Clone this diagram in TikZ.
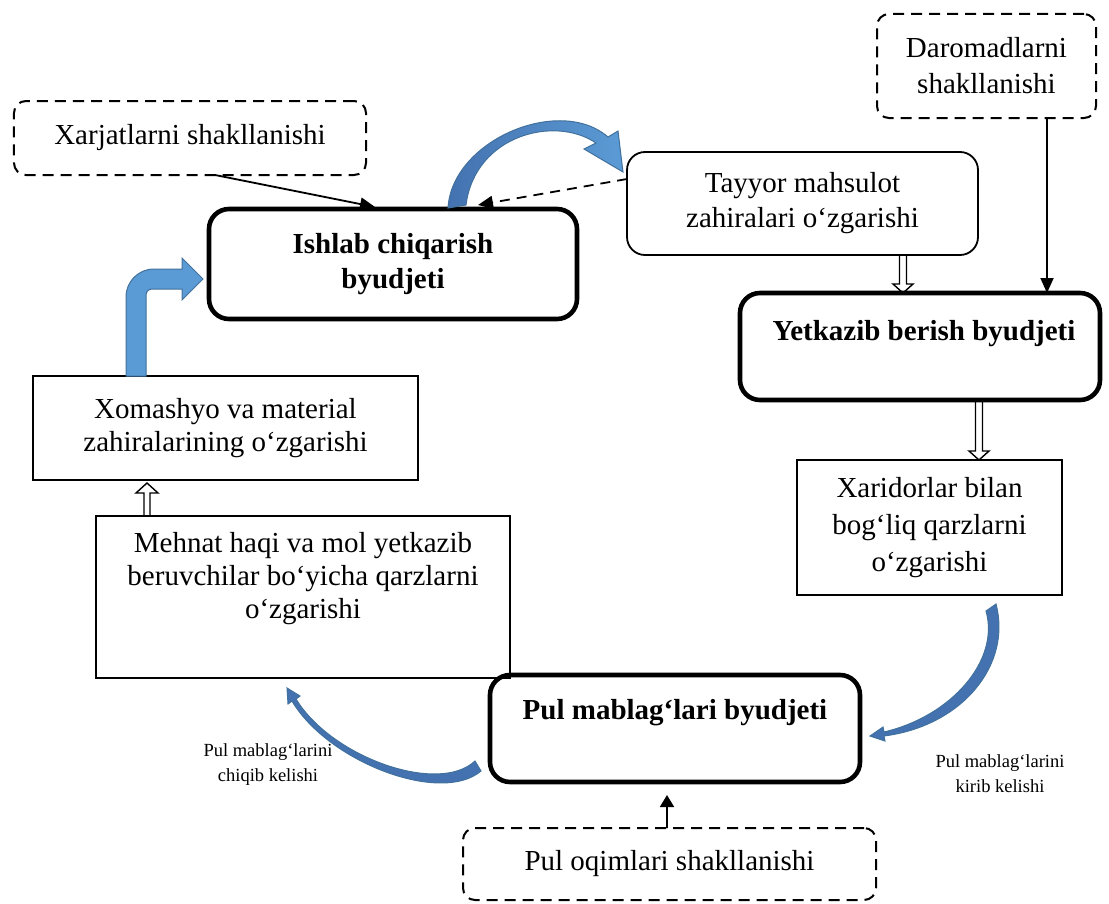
\documentclass[tikz,border=0pt]{standalone}
\usepackage{fontspec}
\setmainfont{Liberation Serif}
\usetikzlibrary{arrows.meta,calc}
\definecolor{blockfill}{RGB}{91,155,213}
\definecolor{blockedge}{RGB}{65,113,156}
\definecolor{blockdark}{RGB}{68,114,176}

% outlined (hollow) vertical block arrows between two anchors
\newcommand\hollowdown[2]{%
  \draw[hollow] let \p1=(#1), \p2=(#2) in
    (\x1-3.5bp,\y1) -- (\x1-3.5bp,\y2+9bp) -- (\x1-10bp,\y2+9bp) -- (\x1,\y2)
    -- (\x1+10bp,\y2+9bp) -- (\x1+3.5bp,\y2+9bp) -- (\x1+3.5bp,\y1);}
\newcommand\hollowup[2]{%
  \draw[hollow] let \p1=(#1), \p2=(#2) in
    (\x1-3bp,\y1) -- (\x1-3bp,\y2-10bp) -- (\x1-11bp,\y2-10bp) -- (\x1,\y2)
    -- (\x1+11bp,\y2-10bp) -- (\x1+3bp,\y2-10bp) -- (\x1+3bp,\y1);}

\begin{document}
\begin{tikzpicture}[x=1bp,y=-1bp,
  every node/.style={inner sep=0pt, outer sep=0pt, align=center,
    font=\fontsize{29bp}{35bp}\selectfont},
  thinbox/.style={draw, line width=1.8bp, rounded corners=18bp},
  plainbox/.style={draw, line width=1.8bp},
  budget/.style={draw, line width=4.6bp, rounded corners=20bp},
  boldtext/.style={font=\bfseries\fontsize{29bp}{35bp}\selectfont},
  dashbox/.style={draw, line width=2bp, dash pattern=on 11bp off 7bp, rounded corners=12bp},
  link/.style={line width=1.8bp, -{Triangle[length=15bp,width=13bp]}},
  hollow/.style={line width=1.4bp, line join=miter},
  office/.style={draw=blockedge, line width=1bp},
  small/.style={font=\fontsize{18.5bp}{25bp}\selectfont}
]
\useasboundingbox (0,0) rectangle (1109,904);

% ---- boxes ----
\node[dashbox, minimum width=352bp, minimum height=74bp] (xarj) at (190,138)
  {Xarjatlarni shakllanishi};
\node[dashbox, minimum width=219bp, minimum height=104bp,
  font=\fontsize{29bp}{36bp}\selectfont] (darom) at (986.5,66)
  {Daromadlarni\\shakllanishi};
\node[budget, boldtext, minimum width=368bp, minimum height=110bp] (ishlab) at (393,264)
  {Ishlab chiqarish\\byudjeti};
\node[thinbox, minimum width=351bp, minimum height=103bp] (tayyor) at (802.5,203.5)
  {Tayyor mahsulot\\zahiralari o‘zgarishi};
\node[budget, minimum width=360bp, minimum height=107bp] (yetkaz) at (920,346.5) {};
\node[boldtext] (yetkaztxt) at (924,334) {Yetkazib berish byudjeti};
\node[plainbox, minimum width=385bp, minimum height=104bp,
  font=\fontsize{29bp}{33bp}\selectfont] (xomash) at (225.5,428)
  {Xomashyo va material\\zahiralarining o‘zgarishi};
\node[plainbox, minimum width=414bp, minimum height=162bp] (mehnat) at (303,597) {};
\node[font=\fontsize{29bp}{33bp}\selectfont] (mehnattxt) at (303,579)
  {Mehnat haqi va mol yetkazib\\beruvchilar bo‘yicha qarzlarni\\o‘zgarishi};
\node[plainbox, minimum width=265bp, minimum height=135bp,
  font=\fontsize{29bp}{37bp}\selectfont] (xarid) at (929.5,527.5)
  {Xaridorlar bilan\\bog‘liq qarzlarni\\o‘zgarishi};
\node[budget, minimum width=370bp, minimum height=107bp] (pul) at (675,728.5) {};
\node[boldtext] (pultxt) at (675,713) {Pul mablag‘lari byudjeti};
\node[dashbox, minimum width=413bp, minimum height=72bp] (oqim) at (669.5,864)
  {Pul oqimlari shakllanishi};

% ---- small captions ----
\node[small] (chiqlbl) at (268,765) {Pul mablag‘larini\\chiqib kelishi};
\node[small] (kirlbl) at (1000,774) {Pul mablag‘larini\\kirib kelishi};

% ---- plain connectors ----
\draw[link] ([xshift=25bp]xarj.south) -- ([xshift=-18bp,yshift=2bp]ishlab.north);
\draw[link, dash pattern=on 10bp off 7bp] ([yshift=24.5bp]tayyor.west)
  -- ([xshift=85bp,yshift=4bp]ishlab.north);
\draw[link] ([xshift=60.5bp]darom.south) -- ([xshift=127bp]yetkaz.north);
\draw[link, -{Triangle[length=12bp,width=14bp]}] ([xshift=-2.5bp]oqim.north)
  -- ([xshift=-8bp,yshift=-13bp]pul.south);

% ---- hollow block arrows ----
\hollowdown{[xshift=100.5bp]tayyor.south}{[xshift=-17bp]yetkaz.north}
\hollowdown{[xshift=59bp]yetkaz.south}{[xshift=49.5bp]xarid.north}
\hollowup{[xshift=-156bp]mehnat.north}{[xshift=-78.5bp,yshift=-3bp]xomash.south}

% ---- blue bent-up arrow into the production budget ----
\path[office, fill=blockfill]
  (126,376) -- (126,297) .. controls (126,281.5) and (138.5,269) .. (154,269)
  -- (182,269) -- (182,258) -- (203,279) -- (182,300) -- (182,289) -- (152,289)
  .. controls (148.7,289) and (146,291.7) .. (146,295) -- (146,376) -- cycle;

% ---- blue curved arrow from production to finished goods ----
\path[office, left color=blockdark, right color=blockfill]
  (448,208) .. controls (452,140) and (560,95) .. (608,137)
  -- (618,131) -- (623,172) -- (584,149) -- (596,143)
  .. controls (555,115) and (475,135) .. (466,205) -- cycle;

% ---- blue curved arrow: cash outflow ----
\path[office, fill=blockdark]
  (481,771) .. controls (441,805) and (328,762) .. (292,701)
  -- (288,704) -- (287,688) -- (300,696) -- (296,699)
  .. controls (332,758) and (439,795) .. (475,761) -- cycle;

% ---- blue curved arrow: cash inflow ----
\path[office, fill=blockdark]
  (996,604) .. controls (1012,665) and (962,726) .. (884,736)
  -- (885,741) -- (870,736) -- (883,727) -- (884,732)
  .. controls (952,716) and (1000,660) .. (986,611) -- cycle;
\end{tikzpicture}
\end{document}
